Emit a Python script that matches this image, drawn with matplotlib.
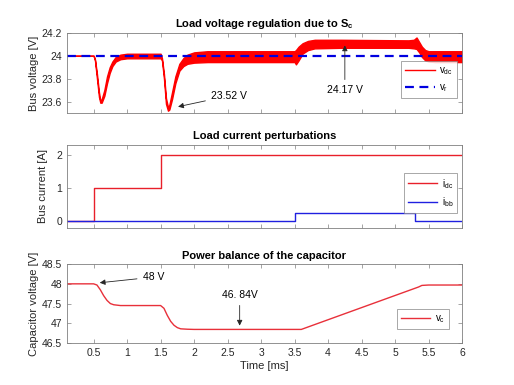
import numpy as np
import matplotlib
matplotlib.use("Agg")
import matplotlib.pyplot as plt

plt.rcParams['font.family'] = ['Liberation Sans', 'DejaVu Sans']
plt.rcParams['mathtext.default'] = 'regular'

# bus voltage ripple envelope (upper / lower)
t_vdc = [0.1, 0.5, 0.52, 0.55, 0.58, 0.6, 0.62, 0.66, 0.7, 0.74, 0.78, 0.83, 0.9, 1.0, 1.5,
         1.52, 1.55, 1.58, 1.61, 1.63, 1.67, 1.72, 1.78, 1.84, 1.9, 2.0, 2.2, 3.5,
         3.52, 3.56, 3.62, 3.7, 3.8, 4.2, 5.2, 5.28, 5.32, 5.36, 5.4, 5.45, 5.5, 5.6, 6.0]
vdc_hi = [24.0, 24.0, 23.97, 23.84, 23.68, 23.61, 23.62, 23.70, 23.82, 23.90, 23.95, 23.99, 24.01, 24.018, 24.018,
          23.98, 23.84, 23.63, 23.55, 23.57, 23.68, 23.82, 23.93, 23.98, 24.01, 24.03, 24.04, 24.04,
          24.05, 24.08, 24.11, 24.13, 24.14, 24.14, 24.135, 24.14, 24.16, 24.12, 24.08, 24.05, 24.04, 24.04, 24.04]
vdc_lo = [24.0, 24.0, 23.96, 23.80, 23.64, 23.59, 23.59, 23.65, 23.76, 23.85, 23.91, 23.95, 23.97, 23.978, 23.978,
          23.96, 23.80, 23.58, 23.52, 23.53, 23.62, 23.76, 23.87, 23.91, 23.93, 23.94, 23.945, 23.945,
          23.925, 23.96, 24.02, 24.05, 24.065, 24.07, 24.07, 24.065, 24.06, 24.03, 23.99, 23.96, 23.95, 23.945, 23.945]
v_ref = 24.0

# load currents
t_i = [0.1, 0.5, 0.5, 1.5, 1.5, 3.5, 3.5, 5.3, 5.3, 6.0]
i_dc = [0, 0, 1, 1, 2, 2, 2, 2, 2, 2]
i_bb = [0, 0, 0, 0, 0, 0, 0.25, 0.25, 0, 0]

# capacitor voltage
t_vc = [0.1, 0.5, 0.55, 0.6, 0.65, 0.7, 0.75, 0.8, 0.9, 1.5, 1.55, 1.6, 1.65, 1.7,
        1.75, 1.8, 1.9, 2.0, 3.6, 5.35, 5.4, 5.5, 6.0]
v_c = [48.0, 48.0, 47.97, 47.85, 47.70, 47.58, 47.50, 47.47, 47.45, 47.45, 47.38, 47.20, 47.05, 46.95,
       46.89, 46.86, 46.85, 46.845, 46.845, 47.92, 47.96, 47.97, 47.97]

xticks = [0.5, 1, 1.5, 2, 2.5, 3, 3.5, 4, 4.5, 5, 5.5, 6]
xticklabels = ['0.5', '1', '1.5', '2', '2.5', '3', '3.5', '4', '4.5', '5', '5.5', '6']

grey = '#262626'
axc = '#808080'


def style(ax):
    ax.set_xlim(0.1, 6)
    ax.set_xticks(xticks)
    ax.tick_params(direction='in', length=3, width=0.5, labelsize=7.5, colors=axc,
                   labelcolor=grey, top=True, right=True)
    for s in ax.spines.values():
        s.set_color(axc)
        s.set_linewidth(0.6)


def legend(ax, **kw):
    leg = ax.legend(fontsize=7, handlelength=3.0, borderpad=0.4, labelspacing=0.5,
                    handletextpad=0.5, fancybox=False, edgecolor=axc, **kw)
    leg.get_frame().set_linewidth(0.6)


fig = plt.figure(figsize=(5.14, 3.85), dpi=100)
ax1 = fig.add_axes([0.130, 0.7065, 0.769, 0.208])
ax2 = fig.add_axes([0.130, 0.408, 0.769, 0.216])
ax3 = fig.add_axes([0.130, 0.109, 0.769, 0.205])

# top panel
ax1.fill_between(t_vdc, vdc_lo, vdc_hi, color='red', lw=1.0, edgecolor='red')
ax1.plot([], [], color='red', lw=1.0, label='$v_{dc}$')
ax1.axhline(v_ref, color='#0000e0', lw=1.6, ls=(0, (4, 2.5)), label='$v_r$')
ax1.set_ylim(23.5, 24.2)
ax1.set_yticks([23.6, 23.8, 24, 24.2])
ax1.set_yticklabels(['23.6', '23.8', '24', '24.2'])
style(ax1)
ax1.set_xticklabels([])
ax1.set_ylabel('Bus voltage [V]', fontsize=8, color=grey, labelpad=2)
ax1.set_title('Load voltage regulation due to S$_c$', fontsize=8, fontweight='bold', pad=4)
ax1.annotate('23.52 V', xy=(1.72, 23.55), xytext=(2.25, 23.65), fontsize=7.5, va='center',
             arrowprops=dict(arrowstyle='-|>', color=grey, lw=0.6, mutation_scale=8))
ax1.annotate('24.17 V', xy=(4.25, 24.115), xytext=(4.25, 23.70), fontsize=7.5, ha='center', va='center',
             arrowprops=dict(arrowstyle='-|>', color=grey, lw=0.6, mutation_scale=8))
legend(ax1, loc='lower right', bbox_to_anchor=(1.0, 0.13))

# middle panel
ax2.plot(t_i, i_dc, color='#e8202a', lw=1.0, label='$i_{dc}$')
ax2.plot(t_i, i_bb, color='#2020e0', lw=1.0, label='$i_{bb}$')
ax2.set_ylim(-0.2, 2.3)
ax2.set_yticks([0, 1, 2])
style(ax2)
ax2.set_xticklabels([])
ax2.set_ylabel('Bus current [A]', fontsize=8, color=grey, labelpad=6)
ax2.set_title('Load current perturbations', fontsize=8, fontweight='bold', pad=4)
legend(ax2, loc='center right', bbox_to_anchor=(1.0, 0.42))

# bottom panel
ax3.plot(t_vc, v_c, color='#e8303a', lw=1.0, label='$v_c$')
ax3.set_ylim(46.5, 48.5)
ax3.set_yticks([46.5, 47, 47.5, 48, 48.5])
ax3.set_yticklabels(['46.5', '47', '47.5', '48', '48.5'])
style(ax3)
ax3.set_xticklabels(xticklabels)
ax3.set_xlabel('Time [ms]', fontsize=8, color=grey, labelpad=2)
ax3.set_ylabel('Capacitor voltage [V]', fontsize=8, color=grey, labelpad=2)
ax3.set_title('Power balance of the capacitor', fontsize=8, fontweight='bold', pad=4)
ax3.annotate('48 V', xy=(0.55, 48.02), xytext=(1.23, 48.17), fontsize=7.5, va='center',
             arrowprops=dict(arrowstyle='-|>', color=grey, lw=0.6, mutation_scale=8))
ax3.annotate('46. 84V', xy=(2.68, 46.87), xytext=(2.68, 47.72), fontsize=7.5, ha='center', va='center',
             arrowprops=dict(arrowstyle='-|>', color=grey, lw=0.6, mutation_scale=8))
legend(ax3, loc='lower right', bbox_to_anchor=(0.98, 0.12))

fig.savefig('out.png', dpi=100)
